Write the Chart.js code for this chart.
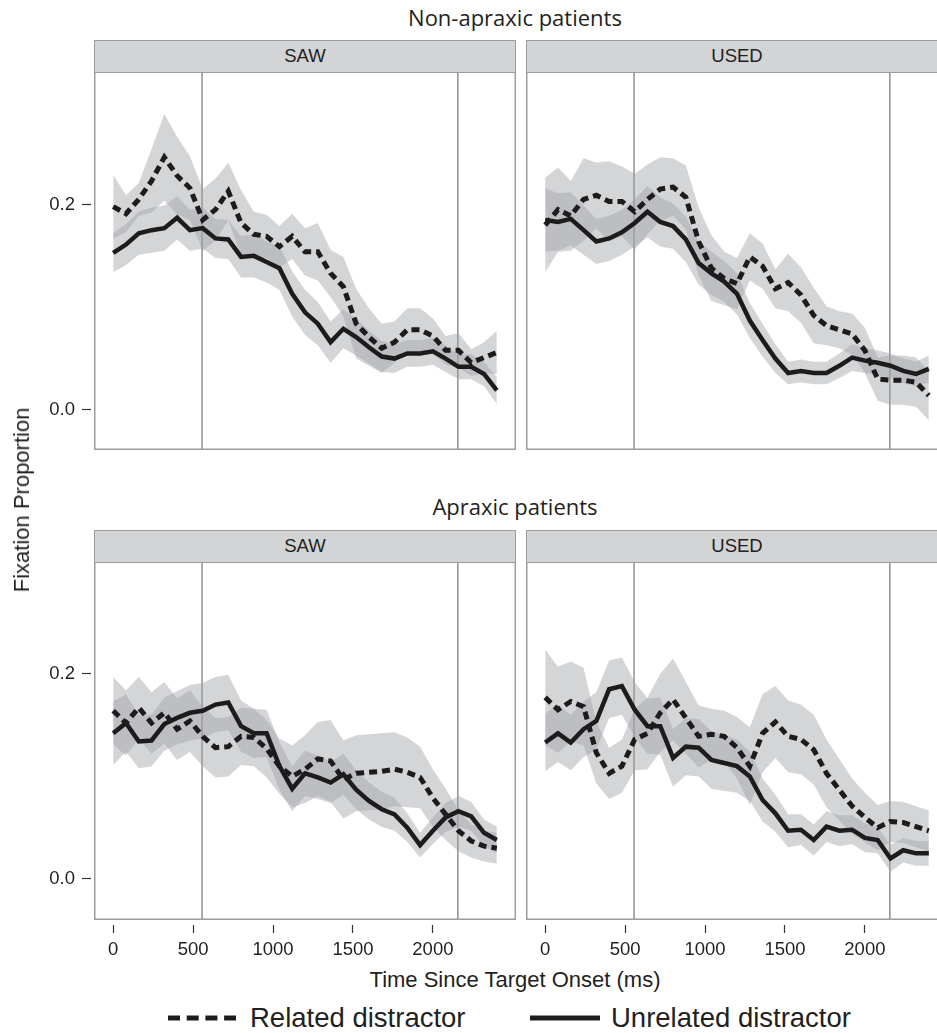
<!DOCTYPE html>
<html>
<head>
<meta charset="utf-8">
<script src="https://cdn.jsdelivr.net/npm/chart.js@4.4.1/dist/chart.umd.min.js"></script>
<style>
  html, body { margin: 0; padding: 0; width: 937px; height: 1033px; overflow: hidden; background: #fff; }
  .abs { position: absolute; }
  .row-title { font-family: "Open Sans", sans-serif; font-size: 22px; color: #231f20; text-align: center; left: 88px; width: 854px; }
  .strip { box-sizing: border-box; height: 33px; width: 422px; background: #d3d4d6; border: 1.5px solid #9b9c9e;
           font-family: "Liberation Sans", Arial, sans-serif; font-size: 18.5px; color: #231f20; text-align: center; line-height: 30px; }
  .axis-title { font-family: "Liberation Sans", Arial, sans-serif; font-size: 22px; color: #231f20; white-space: nowrap; }
  .legend-text { font-family: "Liberation Sans", Arial, sans-serif; font-size: 27.5px; color: #231f20; white-space: nowrap; line-height: 30px; }
  canvas { position: absolute; }
</style>
</head>
<body>

<div class="abs row-title" style="top:2px">Non-apraxic patients</div>
<div class="abs row-title" style="top:491px">Apraxic patients</div>

<div class="abs strip" style="left:94px; top:40px">SAW</div>
<div class="abs strip" style="left:526px; top:40px">USED</div>
<div class="abs strip" style="left:94px; top:530px">SAW</div>
<div class="abs strip" style="left:526px; top:530px">USED</div>

<canvas id="tl" width="516" height="378" style="left:0; top:72px"></canvas>
<canvas id="tr" width="422" height="378" style="left:526px; top:72px"></canvas>
<canvas id="bl" width="516" height="398" style="left:0; top:562px"></canvas>
<canvas id="br" width="422" height="398" style="left:526px; top:562px"></canvas>

<div class="abs axis-title" style="left:22px; top:500px; transform: translate(-50%, -50%) rotate(-90deg)">Fixation Proportion</div>
<div class="abs axis-title" style="left:515px; top:980px; transform: translate(-50%, -50%)">Time Since Target Onset (ms)</div>

<svg class="abs" style="left:166px; top:1008px" width="72" height="20">
  <line x1="2" y1="10" x2="70" y2="10" stroke="#1c1c1c" stroke-width="5" stroke-dasharray="12 6.7"/>
</svg>
<div class="abs legend-text" style="left:250px; top:1003px">Related distractor</div>
<svg class="abs" style="left:528px; top:1008px" width="74" height="20">
  <line x1="2" y1="10" x2="72" y2="10" stroke="#1c1c1c" stroke-width="5"/>
</svg>
<div class="abs legend-text" style="left:611px; top:1003px">Unrelated distractor</div>

<script>
// time bins (ms)
const times = [0, 80, 160, 240, 320, 400, 480, 560, 640, 720, 800, 880, 960, 1040, 1120, 1200,
  1280, 1360, 1440, 1520, 1600, 1680, 1760, 1840, 1920, 2000, 2080, 2160, 2240, 2320, 2400];
const xTicks = [0, 500, 1000, 1500, 2000];
const yTicks = [0.0, 0.2];
const markers = [556, 2156];
const topRange = [-0.039, 0.329];
const bottomRange = [-0.040, 0.309];

// Non-apraxic, SAW
const nonSawRelated = [0.198, 0.191, 0.205, 0.223, 0.246, 0.228, 0.216, 0.185, 0.195, 0.213, 0.182, 0.171, 0.169, 0.159, 0.169, 0.154,
  0.154, 0.133, 0.120, 0.084, 0.071, 0.060, 0.066, 0.078, 0.078, 0.072, 0.058, 0.058, 0.046, 0.051, 0.056];
const nonSawRelatedSe = [0.031, 0.018, 0.016, 0.031, 0.042, 0.038, 0.031, 0.030, 0.030, 0.028, 0.032, 0.022, 0.021, 0.020, 0.022, 0.023,
  0.028, 0.023, 0.029, 0.034, 0.028, 0.024, 0.020, 0.021, 0.021, 0.017, 0.014, 0.017, 0.013, 0.015, 0.021];
const nonSawUnrelated = [0.153, 0.161, 0.172, 0.175, 0.177, 0.187, 0.175, 0.177, 0.167, 0.166, 0.149, 0.150, 0.144, 0.138, 0.113, 0.095,
  0.084, 0.066, 0.079, 0.071, 0.061, 0.052, 0.050, 0.055, 0.055, 0.057, 0.050, 0.042, 0.042, 0.035, 0.019];
const nonSawUnrelatedSe = [0.019, 0.020, 0.021, 0.022, 0.022, 0.021, 0.020, 0.020, 0.019, 0.019, 0.020, 0.021, 0.020, 0.021, 0.022, 0.022,
  0.021, 0.020, 0.019, 0.018, 0.016, 0.015, 0.014, 0.013, 0.013, 0.013, 0.013, 0.012, 0.012, 0.012, 0.013];

// Non-apraxic, USED
const nonUsedRelated = [0.180, 0.195, 0.189, 0.205, 0.209, 0.203, 0.203, 0.193, 0.205, 0.215, 0.217, 0.207, 0.164, 0.138, 0.128, 0.123,
  0.149, 0.140, 0.118, 0.124, 0.112, 0.092, 0.082, 0.078, 0.074, 0.058, 0.030, 0.029, 0.029, 0.027, 0.014];
const nonUsedRelatedSe = [0.046, 0.041, 0.034, 0.040, 0.032, 0.039, 0.034, 0.037, 0.034, 0.031, 0.028, 0.031, 0.033, 0.032, 0.026, 0.025,
  0.023, 0.022, 0.019, 0.028, 0.027, 0.027, 0.019, 0.018, 0.020, 0.022, 0.021, 0.024, 0.024, 0.024, 0.024];
const nonUsedUnrelated = [0.185, 0.183, 0.186, 0.175, 0.164, 0.167, 0.173, 0.182, 0.193, 0.183, 0.179, 0.166, 0.143, 0.133, 0.125, 0.113,
  0.087, 0.068, 0.050, 0.036, 0.038, 0.036, 0.036, 0.043, 0.051, 0.048, 0.046, 0.043, 0.038, 0.035, 0.040];
const nonUsedUnrelatedSe = [0.031, 0.028, 0.026, 0.024, 0.022, 0.022, 0.022, 0.023, 0.025, 0.024, 0.022, 0.022, 0.021, 0.021, 0.020, 0.020,
  0.017, 0.016, 0.014, 0.011, 0.011, 0.011, 0.011, 0.012, 0.013, 0.012, 0.012, 0.012, 0.012, 0.012, 0.013];

// Apraxic, SAW
const aprSawRelated = [0.164, 0.152, 0.167, 0.152, 0.162, 0.146, 0.154, 0.139, 0.128, 0.129, 0.139, 0.138, 0.127, 0.110, 0.100, 0.107,
  0.117, 0.115, 0.097, 0.103, 0.104, 0.105, 0.107, 0.104, 0.099, 0.079, 0.063, 0.047, 0.037, 0.032, 0.030];
const aprSawRelatedSe = [0.033, 0.032, 0.030, 0.030, 0.030, 0.030, 0.030, 0.029, 0.029, 0.029, 0.028, 0.028, 0.028, 0.027, 0.030, 0.033,
  0.036, 0.040, 0.038, 0.037, 0.037, 0.037, 0.036, 0.034, 0.030, 0.028, 0.025, 0.020, 0.016, 0.015, 0.015];
const aprSawUnrelated = [0.142, 0.152, 0.134, 0.135, 0.151, 0.157, 0.162, 0.164, 0.170, 0.172, 0.149, 0.142, 0.142, 0.110, 0.088, 0.103,
  0.099, 0.094, 0.102, 0.087, 0.076, 0.068, 0.063, 0.050, 0.033, 0.047, 0.060, 0.066, 0.061, 0.045, 0.038];
const aprSawUnrelatedSe = [0.031, 0.028, 0.026, 0.025, 0.026, 0.026, 0.027, 0.027, 0.027, 0.027, 0.025, 0.024, 0.023, 0.023, 0.022, 0.022,
  0.021, 0.020, 0.020, 0.019, 0.018, 0.017, 0.016, 0.014, 0.012, 0.013, 0.014, 0.015, 0.014, 0.013, 0.013];

// Apraxic, USED
const aprUsedRelated = [0.177, 0.165, 0.173, 0.168, 0.123, 0.103, 0.110, 0.136, 0.142, 0.162, 0.175, 0.157, 0.139, 0.141, 0.139, 0.128,
  0.110, 0.142, 0.153, 0.139, 0.136, 0.126, 0.103, 0.087, 0.071, 0.060, 0.050, 0.056, 0.055, 0.051, 0.047];
const aprUsedRelatedSe = [0.047, 0.042, 0.039, 0.038, 0.030, 0.025, 0.026, 0.030, 0.035, 0.038, 0.040, 0.035, 0.030, 0.025, 0.025, 0.030,
  0.038, 0.038, 0.035, 0.035, 0.034, 0.034, 0.033, 0.030, 0.027, 0.024, 0.022, 0.020, 0.020, 0.020, 0.020];
const aprUsedUnrelated = [0.133, 0.142, 0.133, 0.146, 0.154, 0.185, 0.188, 0.165, 0.149, 0.149, 0.118, 0.129, 0.128, 0.116, 0.113, 0.110,
  0.100, 0.077, 0.064, 0.047, 0.048, 0.038, 0.051, 0.047, 0.048, 0.040, 0.038, 0.020, 0.028, 0.025, 0.025];
const aprUsedUnrelatedSe = [0.028, 0.028, 0.027, 0.027, 0.028, 0.028, 0.028, 0.027, 0.027, 0.028, 0.028, 0.028, 0.028, 0.028, 0.027, 0.026,
  0.024, 0.021, 0.018, 0.016, 0.015, 0.015, 0.015, 0.015, 0.014, 0.014, 0.013, 0.013, 0.012, 0.012, 0.012];

const INK = "#1c1c1c";
const RIBBON = "rgba(160, 162, 166, 0.45)";
const CLEAR = "rgba(0, 0, 0, 0)";
const FONT = "'Liberation Sans', Arial, sans-serif";

// frame around the plot area, like a ggplot panel border
const panelBorder = {
  id: "panelBorder",
  afterDraw(chart) {
    const { ctx, chartArea: a } = chart;
    ctx.save();
    ctx.strokeStyle = "#9b9c9e";
    ctx.lineWidth = 1.5;
    ctx.strokeRect(a.left + 0.75, a.top, a.right - a.left - 1.5, a.bottom - a.top - 0.75);
    ctx.restore();
  }
};

// mean line (sign 0) or ribbon edge (sign +1 / -1)
const pts = (vals, se, sign = 0) => times.map((t, i) => ({ x: t, y: vals[i] + sign * (se ? se[i] : 0) }));

function panel(id, rel, relSe, unrel, unrelSe, range, showY, showX) {
  const datasets = [
    { data: pts(rel), borderColor: INK, borderWidth: 5, borderDash: [8, 5], borderCapStyle: "butt" },
    { data: pts(unrel), borderColor: INK, borderWidth: 4.5 },
    { data: pts(rel, relSe, 1), borderColor: CLEAR, borderWidth: 1, backgroundColor: RIBBON, fill: "+1" },
    { data: pts(rel, relSe, -1), borderColor: CLEAR, borderWidth: 1 },
    { data: pts(unrel, unrelSe, 1), borderColor: CLEAR, borderWidth: 1, backgroundColor: RIBBON, fill: "+1" },
    { data: pts(unrel, unrelSe, -1), borderColor: CLEAR, borderWidth: 1 }
  ];
  markers.forEach(m => datasets.push({
    data: [{ x: m, y: range[0] }, { x: m, y: range[1] }],
    borderColor: "#8e8f91", borderWidth: 1.5
  }));

  new Chart(document.getElementById(id), {
    type: "line",
    data: { datasets },
    options: {
      responsive: false,
      animation: false,
      layout: { padding: 0 },
      elements: { point: { radius: 0 }, line: { tension: 0, fill: false } },
      plugins: { legend: { display: false }, tooltip: { enabled: false } },
      scales: {
        x: {
          type: "linear", min: -120, max: 2520, display: showX,
          afterBuildTicks: s => { s.ticks = xTicks.map(v => ({ value: v })); },
          afterFit: s => { if (showX) s.height = 40; s.paddingLeft = 0; s.paddingRight = 0; },
          border: { display: false },
          grid: { drawOnChartArea: false, tickLength: 13, tickColor: "#333", tickWidth: 1.2, tickBorderDash: [0, 5, 8, 100] },
          ticks: { padding: 6, maxRotation: 0, color: "#231f20", font: { family: FONT, size: 18.5 }, callback: v => String(v) }
        },
        y: {
          type: "linear", min: range[0], max: range[1], display: showY,
          afterBuildTicks: s => { s.ticks = yTicks.map(v => ({ value: v })); },
          afterFit: s => { if (showY) s.width = 94; s.paddingTop = 0; s.paddingBottom = 0; },
          border: { display: false },
          grid: { drawOnChartArea: false, tickLength: 12, tickColor: "#333", tickWidth: 1.2, tickBorderDash: [9, 100] },
          ticks: { padding: 7, color: "#231f20", font: { family: FONT, size: 18.5 }, callback: v => v.toFixed(1) }
        }
      }
    },
    plugins: [panelBorder]
  });
}

panel("tl", nonSawRelated, nonSawRelatedSe, nonSawUnrelated, nonSawUnrelatedSe, topRange, true, false);
panel("tr", nonUsedRelated, nonUsedRelatedSe, nonUsedUnrelated, nonUsedUnrelatedSe, topRange, false, false);
panel("bl", aprSawRelated, aprSawRelatedSe, aprSawUnrelated, aprSawUnrelatedSe, bottomRange, true, true);
panel("br", aprUsedRelated, aprUsedRelatedSe, aprUsedUnrelated, aprUsedUnrelatedSe, bottomRange, false, true);
</script>
</body>
</html>
